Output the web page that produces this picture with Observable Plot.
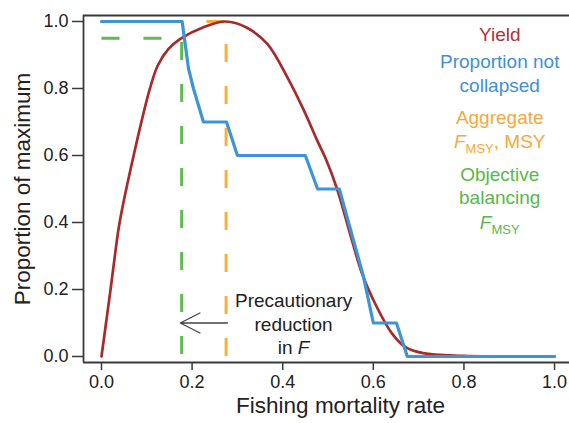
<!DOCTYPE html>
<html><head><meta charset="utf-8">
<script src="https://cdn.jsdelivr.net/npm/d3@7"></script>
<script src="https://cdn.jsdelivr.net/npm/@observablehq/plot@0.6"></script>
<style>body{margin:0;background:#fff} svg{display:block}</style>
</head><body><div id="chart"></div>
<script>
// Yield curve (proportion of maximum) vs fishing mortality F
const yieldF = [0, 0.02, 0.031, 0.04, 0.071, 0.107, 0.124, 0.148, 0.174, 0.225, 0.274, 0.32, 0.366, 0.41, 0.447, 0.476, 0.495, 0.52, 0.553, 0.575, 0.608, 0.641, 0.671, 0.71, 0.8, 1.0];
const yieldV = [0, 0.2, 0.316, 0.4, 0.6, 0.8, 0.868, 0.918, 0.948, 0.983, 1.0, 0.982, 0.933, 0.834, 0.734, 0.645, 0.59, 0.5, 0.346, 0.248, 0.147, 0.069, 0.028, 0.01, 0.002, 0];
// Proportion of stocks not collapsed
const propF = [0, 0.178, 0.183, 0.192, 0.203, 0.225, 0.276, 0.30, 0.45, 0.477, 0.525, 0.578, 0.6, 0.651, 0.675, 1.0];
const propV = [1, 1, 0.95, 0.86, 0.8, 0.7, 0.7, 0.6, 0.6, 0.5, 0.5, 0.24, 0.1, 0.1, 0, 0];
// Objective-balancing F_MSY reference (green) and aggregate F_MSY / MSY (orange)
const objF = [0, 0.177, 0.177];
const objV = [0.95, 0.95, 0];
const aggF = [0, 0.275, 0.275];
const aggV = [1, 1, 0];
const xTicks = [0, 0.2, 0.4, 0.6, 0.8, 1.0];
const yTicks = [0, 0.2, 0.4, 0.6, 0.8, 1.0];
const xDomain = [-0.0397, 1.033];
const yDomain = [-0.0179, 1.0179];
// In-plot legend text
const legendLabels = ["Yield", "Proportion not", "collapsed", "Aggregate", "F_MSY, MSY", "Objective", "balancing", "F_MSY"];
const legendGroup = ["yield", "prop", "prop", "agg", "agg", "obj", "obj", "obj"];
const legendY = [0.961, 0.878, 0.807, 0.713, 0.642, 0.543, 0.472, 0.4];
const legendX = 0.879;
// Annotation
const noteLabels = ["Precautionary", "reduction", "in F"];
const noteY = [0.167, 0.093, 0.027];
const noteX = 0.424;
const arrowData = [{from: 0.278, to: 0.174, y: 0.1}];

const colors = {yield: "#a82a2a", prop: "#3d95d6", agg: "#f8b03a", obj: "#5cbc4c"};
const textColors = {yield: "#a8323e", prop: "#3f8fd6", agg: "#f6a83a", obj: "#58b84a"};
const font = "'Liberation Sans', Arial, Helvetica, sans-serif";

const idx = a => d3.range(a.length);

const chart = Plot.plot({
  width: 569, height: 423,
  marginLeft: 83, marginRight: 0, marginTop: 15, marginBottom: 61,
  x: {domain: xDomain, label: null},
  y: {domain: yDomain, label: null},
  style: {fontFamily: font, fontSize: "18px", color: "#222", background: "#fff"},
  marks: [
    Plot.ruleX([xDomain[0]], {stroke: "#3a3a3a", strokeWidth: 1.8}),
    Plot.ruleY([yDomain[0], yDomain[1]], {stroke: "#3a3a3a", strokeWidth: 1.8}),
    Plot.axisX({ticks: xTicks, tickFormat: d3.format(".1f"), tickSize: 8, tickPadding: 5, label: null, stroke: "#3a3a3a", strokeWidth: 1.5, fill: "#222"}),
    Plot.axisY({ticks: yTicks, tickFormat: d3.format(".1f"), tickSize: 11, tickPadding: 4, label: null, stroke: "#3a3a3a", strokeWidth: 1.5, fill: "#222"}),
    Plot.line(idx(aggF), {x: i => aggF[i], y: i => aggV[i], stroke: colors.agg, strokeWidth: 3, strokeDasharray: "18,24", strokeDashoffset: 21, strokeLinecap: "butt", strokeLinejoin: "miter"}),
    Plot.line(idx(objF), {x: i => objF[i], y: i => objV[i], stroke: colors.obj, strokeWidth: 3, strokeDasharray: "18,24", strokeLinecap: "butt", strokeLinejoin: "miter"}),
    Plot.line(idx(yieldF), {x: i => yieldF[i], y: i => yieldV[i], stroke: colors.yield, strokeWidth: 2.7, curve: "catmull-rom"}),
    Plot.line(idx(propF), {x: i => propF[i], y: i => propV[i], stroke: colors.prop, strokeWidth: 3.2}),
    Plot.arrow(arrowData, {x1: "from", x2: "to", y1: "y", y2: "y", stroke: "#444", strokeWidth: 1.3, headAngle: 53, headLength: 22}),
    Plot.text(idx(legendLabels), {x: () => legendX, y: i => legendY[i], text: i => legendLabels[i], fill: i => textColors[legendGroup[i]], fontSize: 19, textAnchor: "middle"}),
    Plot.text(idx(noteLabels), {x: () => noteX, y: i => noteY[i], text: i => noteLabels[i], fill: "#222", fontSize: 19, textAnchor: "middle"}),
    Plot.text(["Fishing mortality rate"], {frameAnchor: "bottom", dy: 50, dx: 14, fontSize: 22.5, fill: "#222", textAnchor: "middle"}),
    Plot.text(["Proportion of maximum"], {frameAnchor: "left", dx: -61, rotate: -90, fontSize: 22.5, fill: "#222", textAnchor: "middle"})
  ]
});

// Larger arrowhead (Plot caps wing length at a third of the shaft)
{
  const sx = chart.scale("x"), sy = chart.scale("y");
  const a = arrowData[0];
  const x1 = sx.apply(a.from), x2 = sx.apply(a.to), y = sy.apply(a.y);
  const wing = 22, half = 27 * Math.PI / 180;
  const dx = wing * Math.cos(half), dy = wing * Math.sin(half);
  const p = chart.querySelector('g[aria-label="arrow"] path');
  if (p) p.setAttribute("d", `M${x1},${y}L${x2},${y}M${x2 + dx},${y - dy}L${x2},${y}L${x2 + dx},${y + dy}`);
}

// Rich text: italic F and subscript MSY
const rich = {
  "F_MSY, MSY": [["F", "i"], ["MSY", "sub"], [", MSY", ""]],
  "F_MSY": [["F", "i"], ["MSY", "sub"]],
  "in F": [["in ", ""], ["F", "i"]]
};
chart.querySelectorAll("text").forEach(t => {
  const parts = rich[t.textContent];
  if (!parts) return;
  t.textContent = "";
  let shifted = false;
  for (const [s, kind] of parts) {
    const ts = document.createElementNS("http://www.w3.org/2000/svg", "tspan");
    ts.textContent = s;
    if (kind === "i") ts.setAttribute("font-style", "italic");
    if (kind === "sub") { ts.setAttribute("font-size", "13"); ts.setAttribute("dy", "5"); shifted = true; }
    else if (shifted) { ts.setAttribute("dy", "-5"); shifted = false; }
    t.appendChild(ts);
  }
});

document.getElementById("chart").appendChild(chart);
</script>
</body></html>
